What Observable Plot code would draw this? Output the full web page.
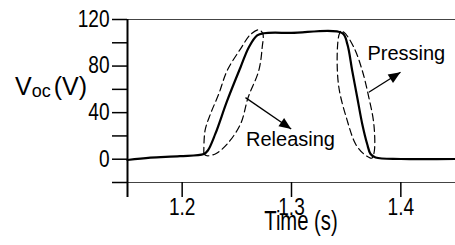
<!DOCTYPE html>
<html><head><meta charset="utf-8">
<script src="https://cdn.jsdelivr.net/npm/d3@7"></script>
<script src="https://cdn.jsdelivr.net/npm/@observablehq/plot@0.6"></script>
<style>
html,body{margin:0;padding:0;background:#fff;}
#chart{width:455px;height:245px;overflow:hidden;}
</style></head><body><div id="chart"></div>
<script>
// Measured (solid) Voc trace
const solidTime = [1.15, 1.171, 1.198, 1.2198, 1.2235, 1.2303, 1.2412, 1.2534, 1.261, 1.2686, 1.2747, 1.30, 1.3464, 1.351, 1.3555, 1.3601, 1.3647, 1.3692, 1.3723, 1.3769, 1.40, 1.45];
const solidVoc  = [-0.7, 1.3, 2.6, 4.5, 7.5, 21.7, 50.3, 79, 96.2, 106.3, 108.2, 108.5, 108.3, 99.1, 76.2, 53.2, 30.3, 13.1, 4.5, 1.5, 0.2, 0.2];

// Dashed envelope around the rising edge (closed loop)
const riseTime = [1.2198, 1.2209, 1.2259, 1.2335, 1.2412, 1.2534, 1.2625, 1.2701, 1.2738, 1.2732, 1.2701, 1.2604, 1.2534, 1.2412, 1.2303, 1.2226, 1.2198];
const riseVoc  = [4.5, 24.5, 38.9, 56.1, 76.2, 94.8, 107.1, 111.2, 107.7, 96.2, 76.2, 53.2, 30.3, 13.1, 4.5, 3, 4.5];

// Dashed envelope around the falling edge (closed loop)
const fallTime = [1.3448, 1.3433, 1.3418, 1.3433, 1.351, 1.3586, 1.3661, 1.3722, 1.3737, 1.3758, 1.3753, 1.3707, 1.3647, 1.357, 1.3479, 1.3448];
const fallVoc  = [109.7, 106.3, 90.5, 61.8, 33.1, 13.1, 4.5, 1, 1, 7.3, 30.3, 53.2, 76.2, 96.2, 109.1, 109.7];

// Annotations
const labelText = ["Releasing", "Pressing"];
const labelTime = [1.2991, 1.405];
const labelVoc  = [16.8, 90.5];
const arrowFromTime = [1.2579, 1.3707];
const arrowFromVoc  = [52.9, 57.5];
const arrowToTime   = [1.2997, 1.3997];
const arrowToVoc    = [26, 74.7];

const yMajorTicks = [0, 40, 80, 120];
const yMinorTicks = [-20, 20, 60, 100];
const xTicks = [1.2, 1.3, 1.4];
const frameLines = [120, -20];
const xTitle = "Time (s)";
const yTitle = ["V", "oc", "(V)"];

const solid = solidTime.map((t, i) => ({t, v: solidVoc[i]}));
const rise = riseTime.map((t, i) => ({t, v: riseVoc[i]}));
const fall = fallTime.map((t, i) => ({t, v: fallVoc[i]}));
const labels = labelText.map((s, i) => ({s, t: labelTime[i], v: labelVoc[i]}));
const arrows = arrowFromTime.map((t, i) => ({t1: t, v1: arrowFromVoc[i], t2: arrowToTime[i], v2: arrowToVoc[i]}));

function filledArrowHead(color) {
  const m = d3.create("svg:marker")
    .attr("viewBox", "-12 -5 12 10")
    .attr("markerWidth", 12).attr("markerHeight", 10)
    .attr("markerUnits", "userSpaceOnUse")
    .attr("orient", "auto")
    .attr("overflow", "visible")
    .attr("fill", color).attr("stroke", "none");
  m.append("path").attr("d", "M-12,-5L0,0L-12,5Z");
  return m.node();
}

const regular = "'Liberation Sans', Arial, Helvetica, sans-serif";

const plot = Plot.plot({
  width: 455, height: 245,
  marginLeft: 127, marginRight: 0, marginTop: 19, marginBottom: 63,
  style: {fontFamily: regular, background: "white", color: "black"},
  x: {domain: [1.15, 1.45]},
  y: {domain: [-20, 120]},
  marks: [
    Plot.ruleY(frameLines, {stroke: "#444", strokeWidth: 1.2}),
    Plot.axisY({ticks: yMajorTicks, tickSize: 15, tickPadding: 3, fontSize: 23, strokeWidth: 1.5, label: null}),
    Plot.axisY({ticks: yMinorTicks, tickSize: 15, text: null, strokeWidth: 1.5, label: null}),
    Plot.axisX({ticks: xTicks, tickSize: 15, tickPadding: 1, fontSize: 23, strokeWidth: 1.5, tickFormat: d => d.toFixed(1), label: null}),
    Plot.axisX({ticks: [1.15], tickSize: 15, text: null, strokeWidth: 2, label: null}),
    Plot.ruleX([1.15], {y1: -20, y2: 120, strokeWidth: 2}),
    Plot.line(rise, {x: "t", y: "v", curve: "catmull-rom", strokeWidth: 1.2, strokeDasharray: "7,4"}),
    Plot.line(fall, {x: "t", y: "v", curve: "catmull-rom", strokeWidth: 1.2, strokeDasharray: "7,4"}),
    Plot.line(solid, {x: "t", y: "v", curve: "catmull-rom", strokeWidth: 2.2}),
    Plot.link(arrows, {x1: "t1", y1: "v1", x2: "t2", y2: "v2", strokeWidth: 1.3, markerEnd: filledArrowHead}),
    Plot.text(labels, {x: "t", y: "v", text: "s", fontSize: 20, textAnchor: "middle", lineAnchor: "middle"})
  ]
});

document.getElementById("chart").appendChild(plot);

const svg = d3.select(plot);
// Condense tick labels like the reference's narrow face
svg.selectAll("g[aria-label='y-axis tick label'] text, g[aria-label='x-axis tick label'] text").each(function() {
  const el = d3.select(this);
  el.attr("transform", (el.attr("transform") || "") + " scale(0.83,1)");
});

// X-axis title
const xs = plot.scale("x"), ys = plot.scale("y");
svg.append("text")
  .attr("transform", `translate(${xs.apply(1.3) + 10},${ys.apply(-20) + 48}) scale(0.75,1)`)
  .attr("text-anchor", "middle").attr("font-size", 27).attr("font-family", regular).attr("fill", "black")
  .text(xTitle);

// Y-axis title with subscript
const t = svg.append("text").attr("x", 15).attr("y", ys.apply(60) + 6)
  .attr("text-anchor", "start").attr("font-size", 25).attr("font-family", regular).attr("fill", "black");
t.append("tspan").text(yTitle[0]);
t.append("tspan").attr("font-size", 18).attr("dy", 2).text(yTitle[1]);
t.append("tspan").attr("dy", -2).attr("dx", 3).text(yTitle[2]);
</script></body></html>
